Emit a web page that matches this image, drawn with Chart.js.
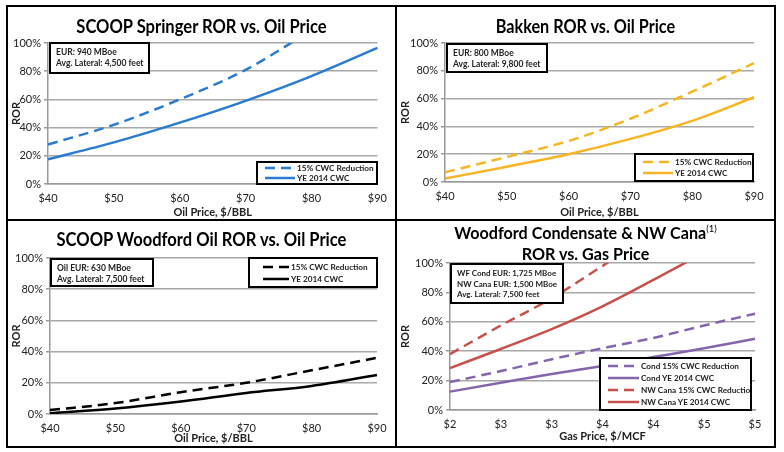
<!DOCTYPE html>
<html>
<head>
<meta charset="utf-8">
<script src="https://cdn.jsdelivr.net/npm/chart.js@4"></script>
<style>
    body { margin: 0; background: #fff; font-family: Lato, "Open Sans", sans-serif; }
    #page { position: relative; width: 784px; height: 452px; overflow: hidden; }
    .frame { position: absolute; left: 6px; top: 5px; width: 766px; height: 439px; border: 2px solid #000; }
    .vline { position: absolute; left: 395px; top: 5px; width: 2px; height: 443px; background: #000; }
    .hline { position: absolute; left: 6px; top: 219px; width: 770px; height: 2px; background: #000; }
    canvas { position: absolute; }
    .title { position: absolute; font-weight: 700; font-size: 18px; color: #000; text-align: center; white-space: nowrap;
             transform-origin: center; transform: scaleX(0.92); }
    .title sup { font-size: 10px; font-weight: 400; line-height: 0; }
    .info { position: absolute; box-sizing: border-box; border: 2px solid #000; background: #fff;
            font-size: 8.5px; font-weight: 700; color: #222; padding: 3px 0 0 5px; line-height: 10.5px; white-space: nowrap; overflow: hidden; }
    .legend { position: absolute; box-sizing: border-box; border: 2px solid #000; background: #fff;
              display: flex; flex-direction: column; justify-content: space-evenly; padding-left: 7px;
              font-size: 8.2px; font-weight: 700; color: #222; white-space: nowrap; overflow: hidden; }
    .legend .row { display: flex; align-items: center; height: 9px; }
    .legend svg { margin-right: 2px; flex: none; }
</style>
</head>
<body>
<div id="page">
    <canvas id="springerChart" width="387" height="212" style="left:8px;top:7px"></canvas>
    <canvas id="bakkenChart" width="377" height="212" style="left:397px;top:7px"></canvas>
    <canvas id="woodfordChart" width="387" height="226" style="left:8px;top:221px"></canvas>
    <canvas id="gasChart" width="377" height="226" style="left:397px;top:221px"></canvas>

    <div class="frame"></div>
    <div class="vline"></div>
    <div class="hline"></div>

    <div class="title" style="left:8px;width:387px;top:15px">SCOOP Springer ROR vs. Oil Price</div>
    <div class="title" style="left:397px;width:377px;top:15px;transform:scaleX(0.9)">Bakken ROR vs. Oil Price</div>
    <div class="title" style="left:8px;width:387px;top:228px">SCOOP Woodford Oil ROR vs. Oil Price</div>
    <div class="title" style="left:397px;width:377px;top:222px;font-size:17px;line-height:21px;transform:scaleX(0.95)">Woodford Condensate &amp; NW Cana<sup>(1)</sup><br>ROR vs. Gas Price</div>

    <div class="info" style="left:49px;top:42px;width:101px;height:32px">EUR: 940 MBoe<br>Avg. Lateral: 4,500 feet</div>
    <div class="info" style="left:446px;top:43px;width:102px;height:30px">EUR: 800 MBoe<br>Avg. Lateral: 9,800 feet</div>
    <div class="info" style="left:50px;top:258px;width:104px;height:29px">Oil EUR: 630 MBoe<br>Avg. Lateral: 7,500 feet</div>
    <div class="info" style="left:450px;top:263px;width:114px;height:41px;font-size:8px">WF Cond EUR: 1,725 MBoe<br>NW Cana EUR: 1,500 MBoe<br>Avg. Lateral: 7,500 feet</div>

    <div class="legend" id="springerLegend" style="left:256px;top:161px;width:122px;height:24px"></div>
    <div class="legend" id="bakkenLegend" style="left:634px;top:153px;width:120px;height:29px"></div>
    <div class="legend" id="woodfordLegend" style="left:248px;top:257px;width:130px;height:31px;padding-left:13px"></div>
    <div class="legend" id="gasLegend" style="left:599px;top:357px;width:153px;height:54px"></div>
</div>

<script>
// x categories
const oilPrices = [40, 50, 60, 70, 80, 90];
const gasPrices = [2, 2.5, 3, 3.5, 4, 4.5, 5];

// y axis ticks (ROR %)
const rorMin = 0;
const rorMax = 100;
const rorStep = 20;

// SCOOP Springer (line past 100% is clipped)
const springerReduction = [28, 42, 60, 81, 109, null];
const springerCwc = [17.5, 29.5, 43.5, 59, 76.5, 96.5];

// Bakken
const bakkenReduction = [7, 18, 29.5, 45.5, 65, 85.5];
const bakkenCwc = [2.5, 11, 20, 31, 44, 61];

// SCOOP Woodford Oil
const woodfordReduction = [2.5, 7, 14, 20, 28, 36];
const woodfordCwc = [0.5, 3.5, 8, 13.5, 18, 25];

// Woodford Condensate & NW Cana vs. gas price
const condReduction = [19, 26.5, 34.5, 42, 49, 57.5, 65.5];
const condCwc = [12.5, 18.5, 24.5, 30, 36, 42, 48.5];
const canaReduction = [38, 57.5, 76, 98, 120, null, null];
const canaCwc = [28.5, 41.5, 55, 70.5, 88.5, 107, null];

const BLUE = '#2b7bd1';
const GOLD = '#f8b523';
const BLACK = '#000000';
const PURPLE = '#8566ad';
const RED = '#c8504c';

const FONT = 'Lato, "Open Sans", sans-serif';
const DASH = [10, 6];

const series = (label, data, color, dashed) => ({
    label: label,
    data: data,
    borderColor: color,
    backgroundColor: color,
    borderWidth: 2.5,
    borderDash: dashed ? DASH : [],
    pointRadius: 0,
    cubicInterpolationMode: 'monotone',
    fill: false
});

const makeChart = (canvasId, labels, datasets, dims) => {
    const ctx = document.getElementById(canvasId).getContext('2d');
    return new Chart(ctx, {
        type: 'line',
        data: { labels: labels, datasets: datasets },
        options: {
            responsive: false,
            animation: false,
            layout: { padding: { top: dims.top, right: dims.right, left: 0, bottom: 0 } },
            plugins: { legend: { display: false }, title: { display: false }, tooltip: { enabled: false } },
            scales: {
                x: {
                    grid: { display: false, drawTicks: false },
                    border: { display: true, color: '#9a9a9a', width: 1.5 },
                    ticks: { color: '#222', font: { family: FONT, size: 11 }, padding: 8, maxRotation: 0, autoSkip: false },
                    title: { display: true, text: dims.xTitle, color: '#222', font: { family: FONT, size: 11, weight: 'bold' },
                             padding: { top: 0, bottom: dims.xTitlePad } },
                    afterFit: (scale) => { scale.height = dims.xHeight; }
                },
                y: {
                    min: rorMin,
                    max: rorMax,
                    grid: { color: '#a8a8a8', lineWidth: 1.5, drawTicks: true, tickLength: 4, tickColor: '#9a9a9a' },
                    border: { display: true, color: '#9a9a9a', width: 1.5 },
                    ticks: { stepSize: rorStep, color: '#222', font: { family: FONT, size: 11 }, padding: 3,
                             callback: (v) => v + '%' },
                    title: { display: true, text: 'ROR', color: '#222', font: { family: FONT, size: 11, weight: 'bold' },
                             padding: { top: 2, bottom: 0 } },
                    afterFit: (scale) => { scale.width = dims.left; }
                }
            }
        }
    });
};

const renderLegend = (elementId, datasets, sampleWidth) => {
    const box = document.getElementById(elementId);
    datasets.forEach(ds => {
        const dash = ds.borderDash.length ? `stroke-dasharray="${ds.borderDash.join(' ')}"` : '';
        const row = document.createElement('div');
        row.className = 'row';
        row.innerHTML = `<svg width="${sampleWidth}" height="6"><line x1="0" y1="3" x2="${sampleWidth}" y2="3"
            stroke="${ds.borderColor}" stroke-width="2.5" ${dash}/></svg><span>${ds.label}</span>`;
        box.appendChild(row);
    });
};

const oilLabels = oilPrices.map(p => '$' + p);
const gasLabels = gasPrices.map(p => '$' + Math.round(p));

const springerSets = [
    series('15% CWC Reduction', springerReduction, BLUE, true),
    series('YE 2014 CWC', springerCwc, BLUE, false)
];
const bakkenSets = [
    series('15% CWC Reduction', bakkenReduction, GOLD, true),
    series('YE 2014 CWC', bakkenCwc, GOLD, false)
];
const woodfordSets = [
    series('15% CWC Reduction', woodfordReduction, BLACK, true),
    series('YE 2014 CWC', woodfordCwc, BLACK, false)
];
const gasSets = [
    series('Cond 15% CWC Reduction', condReduction, PURPLE, true),
    series('Cond YE 2014 CWC', condCwc, PURPLE, false),
    series('NW Cana 15% CWC Reduction', canaReduction, RED, true),
    series('NW Cana YE 2014 CWC', canaCwc, RED, false)
];

makeChart('springerChart', oilLabels, springerSets,
    { left: 40, top: 36, right: 17, xHeight: 35, xTitlePad: 0, xTitle: 'Oil Price, $/BBL' });
makeChart('bakkenChart', oilLabels, bakkenSets,
    { left: 48, top: 36, right: 20, xHeight: 37, xTitlePad: 0, xTitle: 'Oil Price, $/BBL' });
makeChart('woodfordChart', oilLabels, woodfordSets,
    { left: 42, top: 37, right: 18, xHeight: 33, xTitlePad: 2, xTitle: 'Oil Price, $/BBL' });
makeChart('gasChart', gasLabels, gasSets,
    { left: 53, top: 42, right: 19, xHeight: 37, xTitlePad: 4, xTitle: 'Gas Price, $/MCF' });

renderLegend('springerLegend', springerSets, 30);
renderLegend('bakkenLegend', bakkenSets, 30);
renderLegend('woodfordLegend', woodfordSets, 26);
renderLegend('gasLegend', gasSets, 31);
</script>
</body>
</html>
